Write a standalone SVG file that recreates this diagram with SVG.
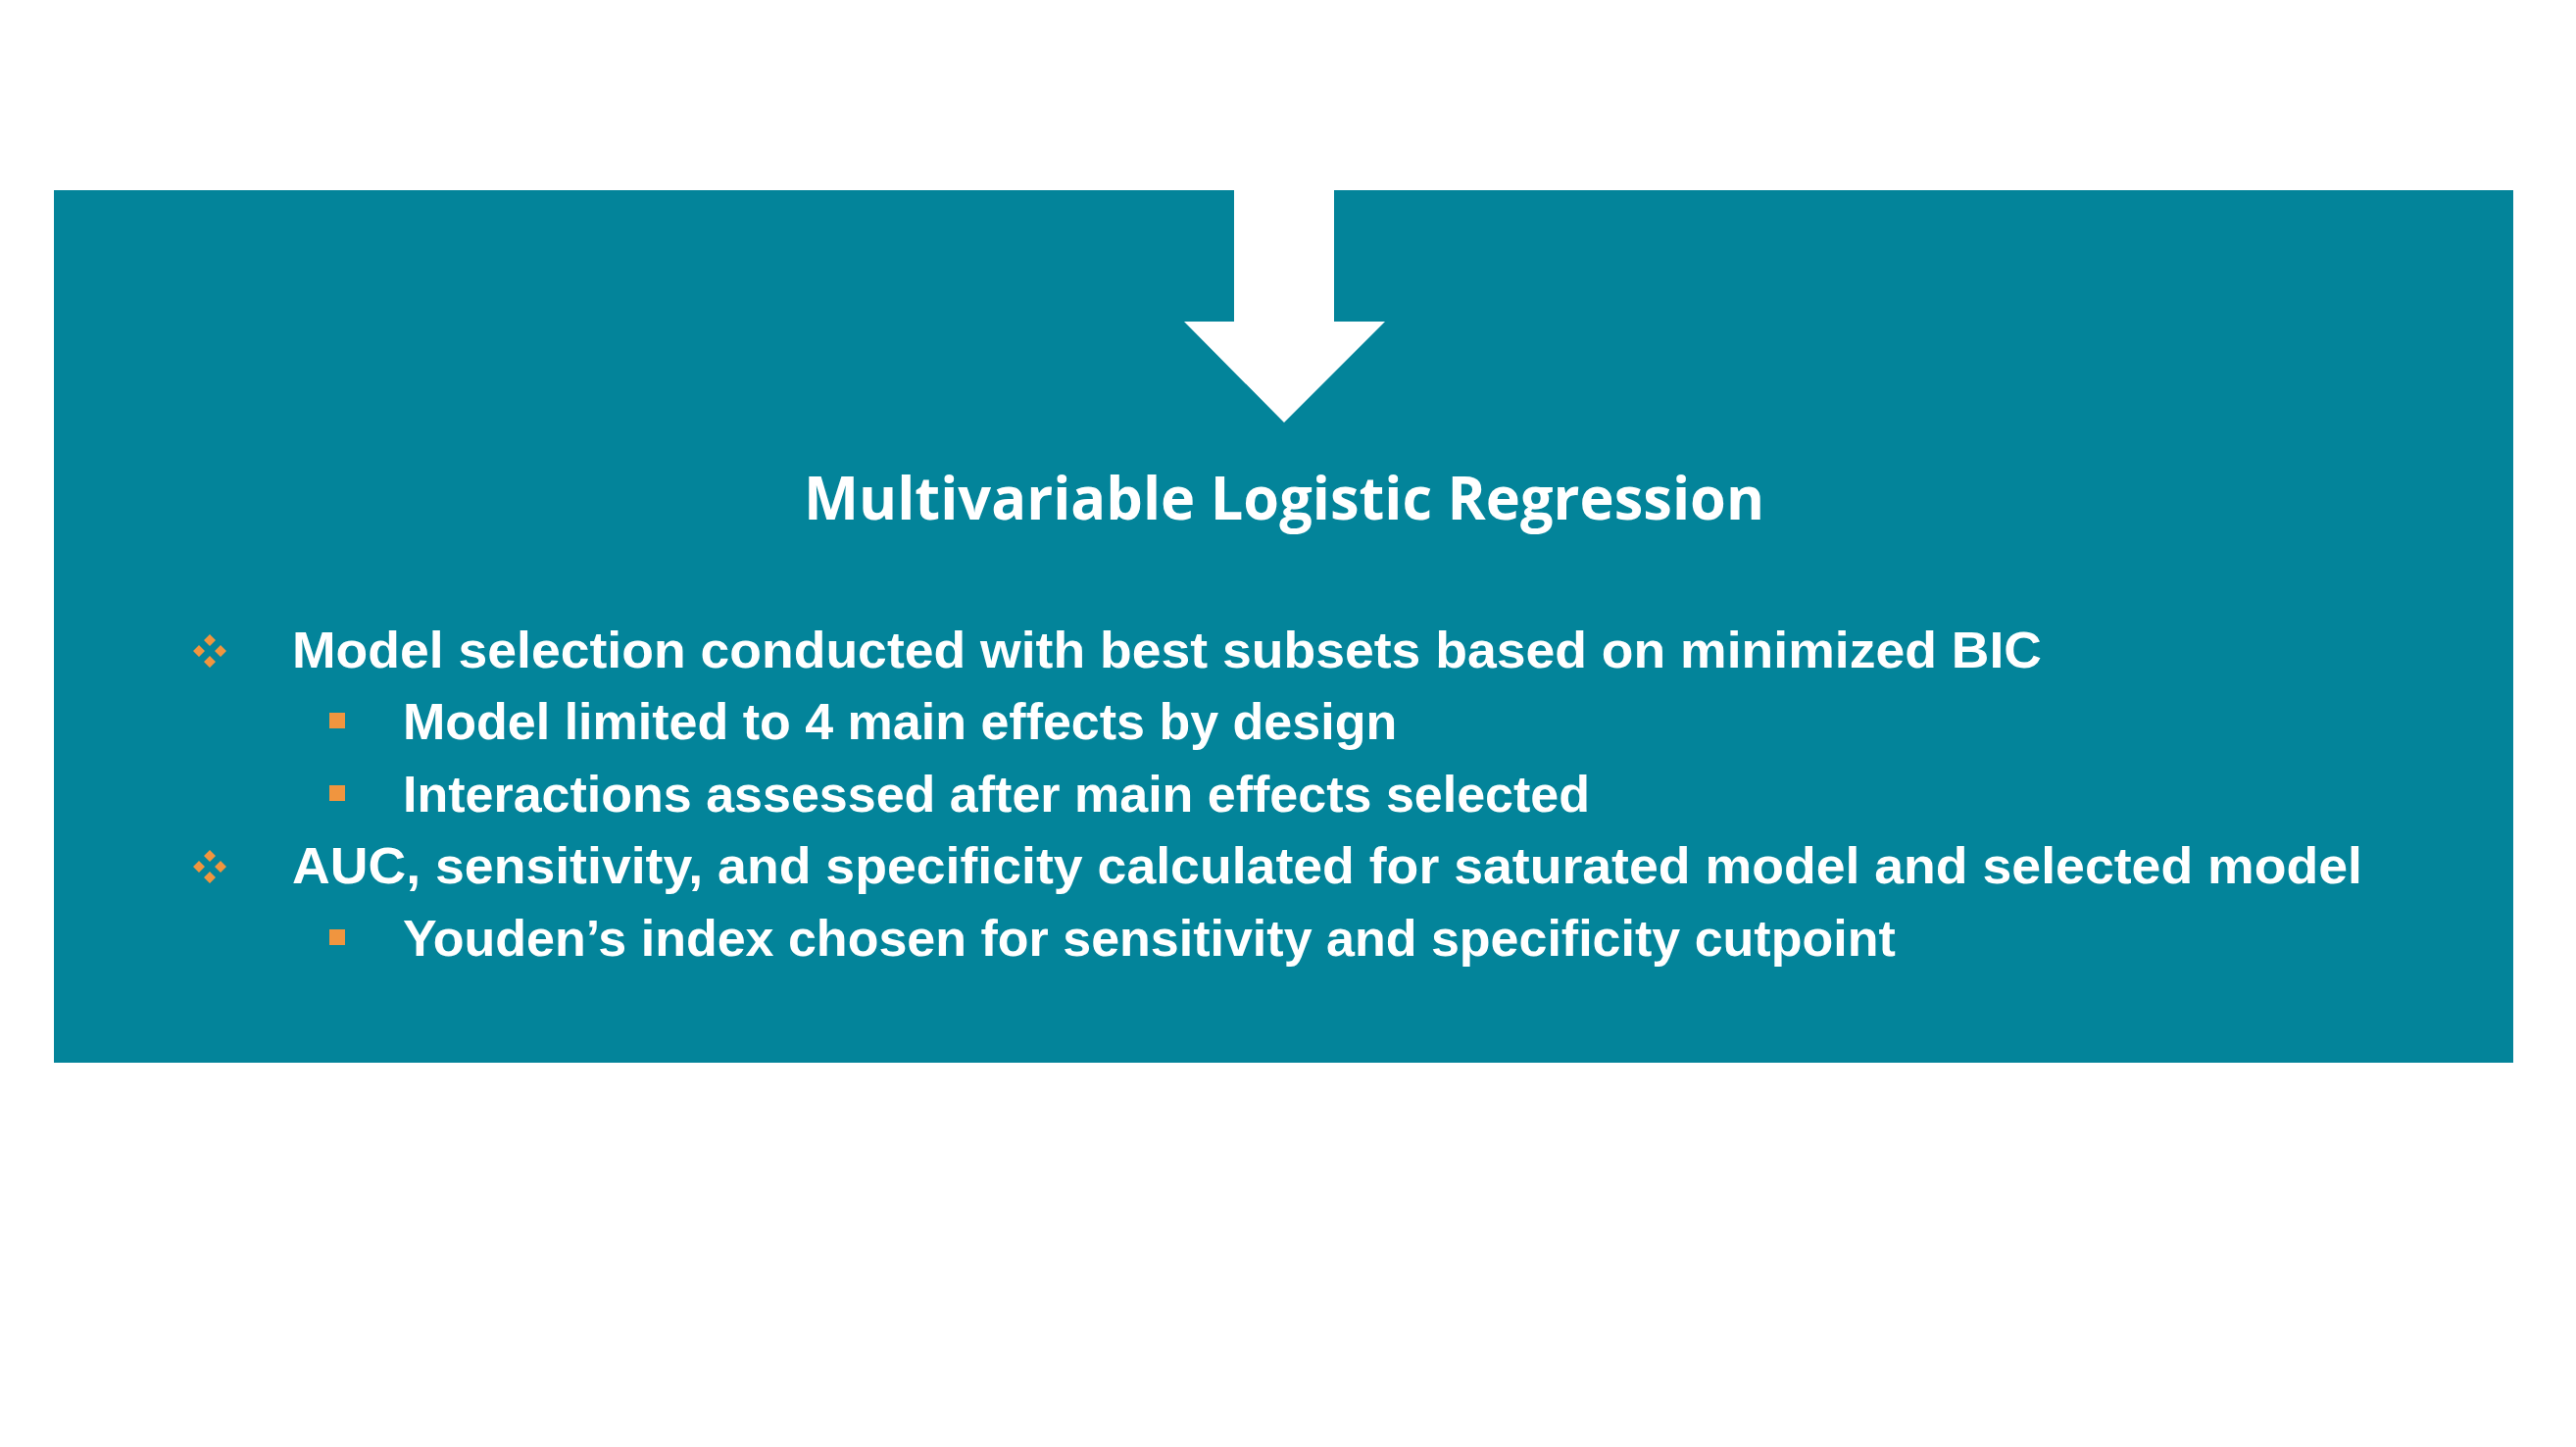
<svg xmlns="http://www.w3.org/2000/svg" width="2628" height="1476" viewBox="0 0 2628 1476">
<style>
.b{font-family:"Liberation Sans",Arial,sans-serif;font-weight:bold;font-size:52px;fill:#fff}
.o{fill:#F0953F}
</style>
<defs>
<g id="dia"><path class="o" d="M0,-17 L6,-11 L0,-5 L-6,-11Z M0,5 L6,11 L0,17 L-6,11Z M-11,-6 L-5,0 L-11,6 L-17,0Z M11,-6 L17,0 L11,6 L5,0Z"/></g>
<rect id="sq" class="o" x="-8" y="-8" width="16" height="16"/>
</defs>
<rect width="2628" height="1476" fill="#fff"/>
<g id="panel">
<rect x="55" y="194" width="2509" height="890" fill="#03849A"/>
</g>
<g id="connectors">
<polygon points="1259,194 1361,194 1361,328 1413,328 1310,431 1208,328 1259,328" fill="#fff"/>
</g>
<g id="title">
<text x="1310" y="530" text-anchor="middle" font-family="'Open Sans','Noto Sans',sans-serif" font-weight="bold" font-size="60" fill="#fff" textLength="980" lengthAdjust="spacingAndGlyphs">Multivariable Logistic Regression</text>
</g>
<g id="bullets">
<use href="#dia" x="214" y="664"/>
<text class="b" x="298" y="681" textLength="1785" lengthAdjust="spacingAndGlyphs">Model selection conducted with best subsets based on minimized BIC</text>
<use href="#sq" x="344" y="735"/>
<text class="b" x="411" y="754">Model limited to 4 main effects by design</text>
<use href="#sq" x="344" y="809"/>
<text class="b" x="411" y="828">Interactions assessed after main effects selected</text>
<use href="#dia" x="214" y="884"/>
<text class="b" x="298" y="901" textLength="2112" lengthAdjust="spacingAndGlyphs">AUC, sensitivity, and specificity calculated for saturated model and selected model</text>
<use href="#sq" x="344" y="956"/>
<text class="b" x="411" y="975">Youden’s index chosen for sensitivity and specificity cutpoint</text>
</g>
</svg>
